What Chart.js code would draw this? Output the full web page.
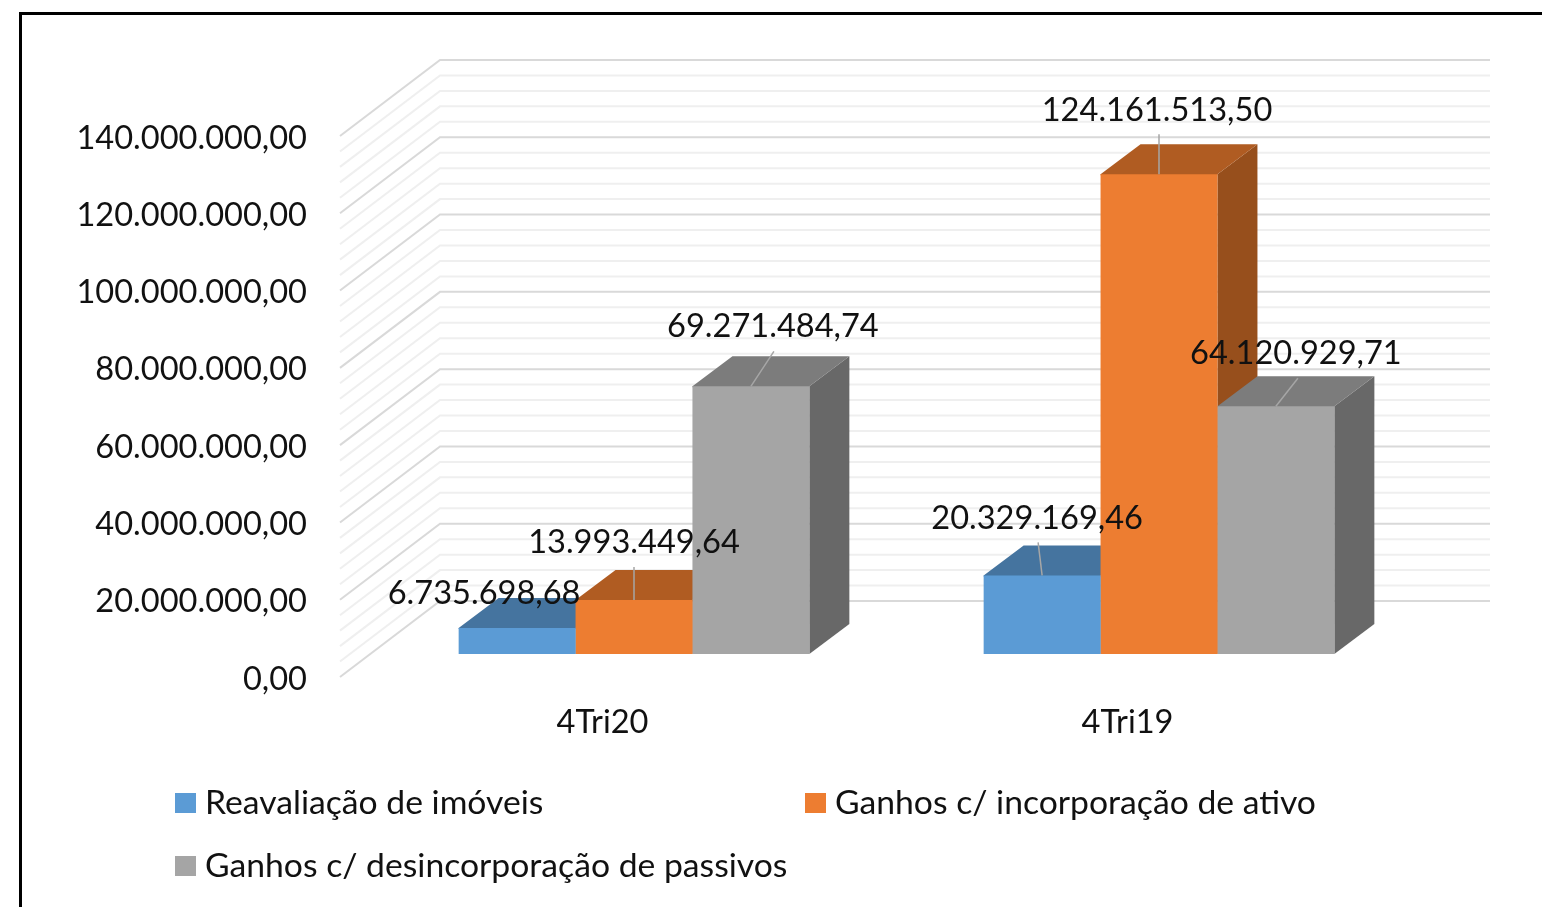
<!DOCTYPE html>
<html>
<head>
<meta charset="utf-8">
<script src="https://cdn.jsdelivr.net/npm/chart.js@4"></script>
<style>
  html, body { margin: 0; padding: 0; background: #fff; overflow: hidden; }
  canvas { display: block; }
</style>
</head>
<body>
<canvas id="chart" width="1542" height="907"></canvas>
<script>
const categories = ['4Tri20', '4Tri19'];
const seriesNames = ['Reavaliação de imóveis', 'Ganhos c/ incorporação de ativo', 'Ganhos c/ desincorporação de passivos'];
const reavaliacao = [6735698.68, 20329169.46];
const incorporacao = [13993449.64, 124161513.50];
const desincorporacao = [69271484.74, 64120929.71];

const frontColors = ['#5b9bd5', '#ed7d31', '#a5a5a5'];
const topColors = ['#45749f', '#b05c22', '#7c7c7c'];
const sideColors = ['#3d6a92', '#974f1c', '#686868'];

const FONT = 'Lato, Carlito, sans-serif';
const TICK_SIZE = 32.6;
const LEGEND_SIZE = 33.7;
const WALL = { x: 100, y: -76 };
const BAR_SHIFT = { x: 31.5, y: -23 };
const BAR_DEPTH = { x: 40, y: -30 };
const MINOR_STEP = 4000000;

// label position relative to the top centre of each bar, [series][category]
const labelOffsets = [
  [[-33, -34], [-5, -57]],
  [[0, -57], [-2, -64]],
  [[22, -60], [20, -53]]
];
// where the leader line ends, same layout. null = no leader
const leaderEnds = [
  [null, [-4, -33]],
  [[0, -33], [0, -40]],
  [[23, -35], [22, -28]]
];

const money = v => v.toLocaleString('pt-BR', { minimumFractionDigits: 2, maximumFractionDigits: 2 });

function poly(ctx, pts, color) {
  ctx.fillStyle = color;
  ctx.beginPath();
  pts.forEach((p, i) => i ? ctx.lineTo(p[0], p[1]) : ctx.moveTo(p[0], p[1]));
  ctx.closePath();
  ctx.fill();
}

const frame = {
  id: 'frame',
  afterUpdate(chart) {
    // tick labels sit 2px lower than the middle of the line
    chart.scales.y.getLabelItems().forEach(item => { item.options.translation[1] += 2; });
  },
  beforeDraw(chart) {
    const ctx = chart.ctx;
    ctx.save();
    ctx.fillStyle = '#fff';
    ctx.fillRect(0, 0, chart.width, chart.height);
    ctx.strokeStyle = '#000';
    ctx.lineWidth = 3;
    ctx.beginPath();
    ctx.moveTo(20.5, chart.height);
    ctx.lineTo(20.5, 13.5);
    ctx.lineTo(chart.width, 13.5);
    ctx.stroke();
    ctx.restore();
  }
};

const walls = {
  id: 'walls',
  beforeDatasetsDraw(chart) {
    const { ctx, chartArea: area, scales: { y } } = chart;
    ctx.save();
    for (let v = y.min; v <= y.max; v += MINOR_STEP) {
      const py = y.getPixelForValue(v);
      ctx.strokeStyle = v % (MINOR_STEP * 5) === 0 ? '#d9d9d9' : '#efefef';
      ctx.lineWidth = 2;
      ctx.beginPath();
      ctx.moveTo(area.left, py);
      ctx.lineTo(area.left + WALL.x, py + WALL.y);
      ctx.lineTo(area.right + WALL.x, py + WALL.y);
      ctx.stroke();
    }
    ctx.restore();
  }
};

// moves the bars into the middle of the floor and gives them top and side faces
const bars3d = {
  id: 'bars3d',
  beforeDatasetsDraw(chart) {
    const ctx = chart.ctx;
    ctx.save();
    ctx.translate(BAR_SHIFT.x, BAR_SHIFT.y);
    chart.data.datasets.forEach((ds, s) => {
      chart.getDatasetMeta(s).data.forEach(bar => {
        const l = bar.x - bar.width / 2, r = bar.x + bar.width / 2;
        const dx = BAR_DEPTH.x, dy = BAR_DEPTH.y;
        poly(ctx, [[r, bar.y], [r + dx, bar.y + dy], [r + dx, bar.base + dy], [r, bar.base]], sideColors[s]);
        // one pixel under the front face so nothing shows through the seam
        poly(ctx, [[l, bar.y + 1], [l, bar.y], [l + dx, bar.y + dy], [r + dx, bar.y + dy], [r, bar.y], [r, bar.y + 1]], topColors[s]);
      });
    });
  },
  afterDatasetsDraw(chart) {
    const ctx = chart.ctx;
    chart.data.datasets.forEach((ds, s) => {
      chart.getDatasetMeta(s).data.forEach((bar, c) => {
        const end = leaderEnds[s][c];
        if (end) {
          ctx.strokeStyle = '#a6a6a6';
          ctx.lineWidth = 1.5;
          ctx.beginPath();
          ctx.moveTo(bar.x, bar.y);
          ctx.lineTo(bar.x + end[0], bar.y + end[1]);
          ctx.stroke();
        }
      });
    });
    chart.data.datasets.forEach((ds, s) => {
      chart.getDatasetMeta(s).data.forEach((bar, c) => {
        const off = labelOffsets[s][c];
        ctx.fillStyle = '#111';
        ctx.font = TICK_SIZE + 'px ' + FONT;
        ctx.textAlign = 'center';
        ctx.textBaseline = 'middle';
        ctx.fillText(money(ds.data[c]), bar.x + off[0], bar.y + off[1]);
      });
    });
    ctx.restore();
  }
};

const sideLegend = {
  id: 'sideLegend',
  afterDraw(chart) {
    const ctx = chart.ctx;
    const spots = [[175, 803], [805, 803], [175, 866]];
    ctx.save();
    ctx.font = LEGEND_SIZE + 'px ' + FONT;
    ctx.textAlign = 'left';
    ctx.textBaseline = 'middle';
    chart.data.datasets.forEach((ds, s) => {
      const [x, y] = spots[s];
      ctx.fillStyle = ds.backgroundColor;
      ctx.fillRect(x, y - 10, 21, 20);
      ctx.fillStyle = '#111';
      ctx.fillText(ds.label, x + 30, y);
    });
    ctx.restore();
  }
};

new Chart(document.getElementById('chart').getContext('2d'), {
  type: 'bar',
  data: {
    labels: categories,
    datasets: [
      { label: seriesNames[0], data: reavaliacao, backgroundColor: frontColors[0] },
      { label: seriesNames[1], data: incorporacao, backgroundColor: frontColors[1] },
      { label: seriesNames[2], data: desincorporacao, backgroundColor: frontColors[2] }
    ]
  },
  options: {
    responsive: false,
    animation: false,
    layout: { padding: { left: 0, right: 152, top: 136, bottom: 0 } },
    datasets: { bar: { categoryPercentage: 0.668, barPercentage: 1, borderWidth: 0, clip: false } },
    scales: {
      x: {
        afterFit: s => { s.height = 230; },
        grid: { display: false },
        border: { display: false },
        ticks: { color: '#111', padding: 18, font: { family: FONT, size: TICK_SIZE } }
      },
      y: {
        min: 0,
        max: 140000000,
        afterFit: s => { s.width = 340; },
        grid: { display: false },
        border: { display: false },
        ticks: {
          stepSize: 20000000,
          color: '#111',
          padding: 25,
          font: { family: FONT, size: TICK_SIZE },
          callback: v => money(v)
        }
      }
    },
    plugins: { legend: { display: false }, tooltip: { enabled: false } }
  },
  plugins: [frame, walls, bars3d, sideLegend]
});
</script>
</body>
</html>
